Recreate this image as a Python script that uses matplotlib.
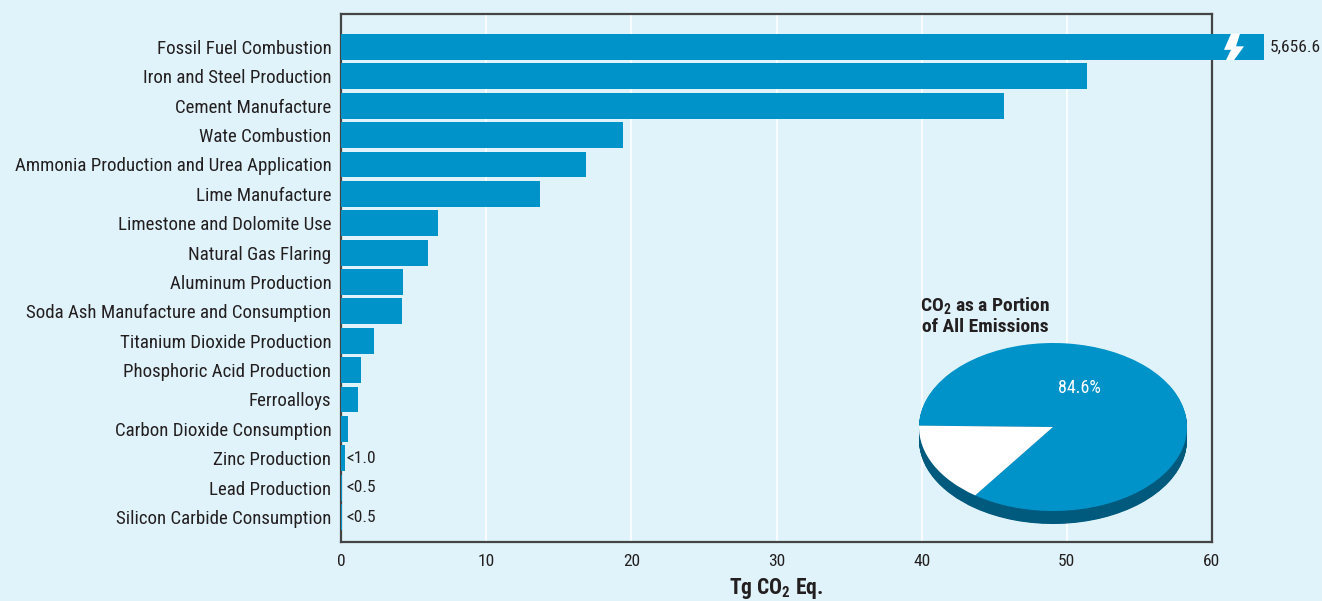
import matplotlib.pyplot as plt
import numpy as np
from matplotlib.patches import Polygon

# data (Tg CO2 Eq.)
sources = ["Fossil Fuel Combustion", "Iron and Steel Production", "Cement Manufacture",
           "Wate Combustion", "Ammonia Production and Urea Application", "Lime Manufacture",
           "Limestone and Dolomite Use", "Natural Gas Flaring", "Aluminum Production",
           "Soda Ash Manufacture and Consumption", "Titanium Dioxide Production",
           "Phosphoric Acid Production", "Ferroalloys", "Carbon Dioxide Consumption",
           "Zinc Production", "Lead Production", "Silicon Carbide Consumption"]
values = [5656.6, 51.4, 45.7, 19.4, 16.9, 13.7, 6.7, 6.0, 4.3, 4.2, 2.3, 1.4, 1.2, 0.5, 0.3, 0.1, 0.1]
small_labels = {14: "<1.0", 15: "<0.5", 16: "<0.5"}
pie_values = [84.6, 15.4]

BG = "#e0f3fa"
BLUE = "#0093c9"
DARK = "#005a7e"
TXT = "#231f20"
FONT = ["Roboto Condensed", "DejaVu Sans"]
FS = 12.5

plt.rcParams['font.family'] = FONT
plt.rcParams['mathtext.fontset'] = 'custom'
plt.rcParams['mathtext.rm'] = 'Roboto Condensed'
plt.rcParams['mathtext.bf'] = 'Roboto Condensed:bold'

fig = plt.figure(figsize=(13.22, 6.01), dpi=100, facecolor=BG)
ax = fig.add_axes([341 / 1322, 1 - 542 / 601, 871 / 1322, 528 / 601], facecolor=BG)

xmax = 60
broken_len = 63.6  # drawn length of the off-scale bar
y = np.arange(len(sources))
shown = [v if v <= xmax else broken_len for v in values]
bars = ax.barh(y, shown, height=0.88, color=BLUE, zorder=3)
for b in bars:
    b.set_clip_on(False)

# axis break on fossil fuel bar
px = lambda p: (p - 341) / 14.5
zig = [(px(1230), -0.45), (px(1239), -0.45), (px(1235), -0.02), (px(1243), -0.02),
       (px(1233), 0.45), (px(1225), 0.45), (px(1230), 0.1), (px(1223), 0.1)]
ax.add_patch(Polygon(zig, closed=True, facecolor="white", edgecolor="none", zorder=4, clip_on=False))
ax.text(broken_len + 0.4, 0, "5,656.6", va="center", ha="left", fontsize=FS, color=TXT)

for i, lab in small_labels.items():
    ax.text(0.4, i, lab, va="center", ha="left", fontsize=FS, color=TXT)

ax.set_xlim(0, xmax)
ax.set_ylim(16.85, -1.12)
ax.set_yticks(y)
ax.set_yticklabels(sources, fontsize=13.6, color=TXT)
ax.set_xticks(np.arange(0, 61, 10))
ax.tick_params(axis="x", length=0, pad=9, labelsize=FS, labelcolor=TXT)
ax.tick_params(axis="y", length=0, pad=7)
ax.grid(axis="x", color="white", linewidth=1.2, zorder=0)
ax.set_axisbelow(True)
for s in ax.spines.values():
    s.set_color("#444444")
    s.set_linewidth(1.6)
ax.set_xlabel(r"Tg CO$_\mathbf{2}$ Eq.", fontsize=15.5, fontweight="bold", color=TXT, labelpad=5)

# 3D-looking pie inset
cx, cy, rx, ry, depth = 1053, 427, 134, 84, 13
pad = 1.15
pax = fig.add_axes([(cx - rx * pad) / 1322, 1 - (cy + ry * pad + depth) / 601,
                    2 * rx * pad / 1322, (2 * ry * pad + depth) / 601])
d = depth / ry
for off in np.linspace(d, 0.01, 25):
    pax.pie(pie_values, startangle=234.5, colors=[DARK, DARK], center=(0, -off),
            wedgeprops=dict(linewidth=0))
pax.pie(pie_values, startangle=234.5, colors=[BLUE, "white"], center=(0, 0),
        wedgeprops=dict(linewidth=0))
pax.set_aspect("auto")
pax.set_xlim(-pad, pad)
pax.set_ylim(-pad - d, pad)
pax.axis("off")
pax.text(0.2, 0.46, "84.6%", color="white", fontsize=13, ha="center", va="center")

fig.text(985 / 1322, 1 - 316 / 601, "CO$_\\mathbf{2}$ as a Portion\nof All Emissions", ha="center",
         va="center", fontsize=14, fontweight="bold", color=TXT, linespacing=1.05)

fig.savefig("out.png", dpi=100, facecolor=BG)
